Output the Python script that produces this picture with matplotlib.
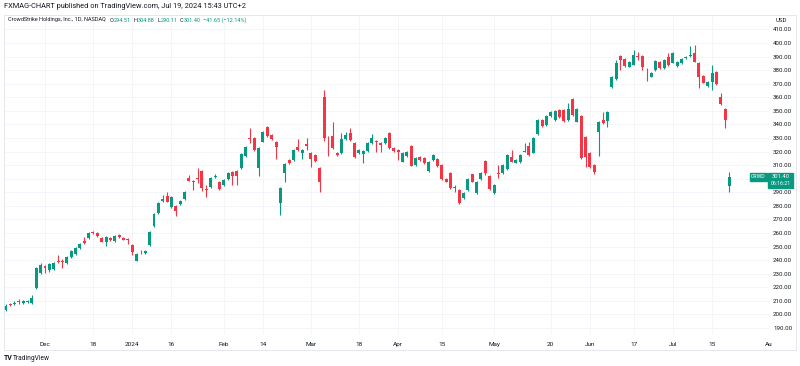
import matplotlib.pyplot as plt
import pandas as pd
from matplotlib.patches import Rectangle

plt.rcParams["font.family"] = ["Roboto", "DejaVu Sans"]

# CRWD daily candles, 2023-11-17 .. 2024-07-19
opens = [203.5, 207.5, 207.4, 209.5, 208.2, 209.0, 208.4, 219.2, 230.3,
         235.7, 232.7, 233.3, 239.6, 239.5, 237.7, 242.0, 244.5, 248.7, 254.0,
         256.1, 260.5, 259.8, 256.1, 253.6, 256.5, 254.1, 258.5, 256.5, 255.5,
         251.1, 239.6, 246.0, 245.0, 251.1, 265.0, 274.5, 283.8, 287.3, 279.0,
         280.0, 281.1, 284.8, 300.3, 298.5, 300.2, 305.7, 292.2, 293.7, 301.0,
         297.8, 295.4, 299.8, 305.2, 305.7, 307.7, 316.7, 330.2, 329.8, 307.7,
         327.3, 337.9, 332.2, 327.3, 282.3, 304.4, 313.8, 313.5, 323.6, 318.7,
         325.3, 319.2, 317.5, 307.7, 360.4, 330.2, 331.3, 319.2, 318.7, 329.0,
         333.5, 326.1, 319.2, 318.2, 320.6, 326.1, 327.6, 326.6, 326.1, 333.5,
         322.4, 321.1, 312.5, 316.7, 324.3, 310.1, 316.2, 315.0, 305.7, 313.8,
         314.3, 310.1, 299.6, 304.0, 293.0, 291.7, 285.6, 291.7, 303.2, 289.2,
         299.8, 313.0, 302.0, 289.7, 304.3, 304.4, 307.1, 315.8, 311.8, 312.5,
         319.9, 324.1, 319.2, 333.0, 343.3, 339.6, 346.1, 343.3, 350.6, 350.6,
         343.3, 358.7, 342.0, 346.2, 331.0, 319.2, 310.1, 334.6, 343.3, 342.7,
         367.4, 373.2, 390.4, 388.2, 382.5, 384.1, 390.4, 390.4, 381.0, 375.2,
         380.1, 386.2, 381.3, 389.4, 385.5, 383.0, 385.0, 388.7, 390.6, 392.9,
         385.5, 375.7, 368.3, 371.5, 378.4, 360.4, 351.3, 294.51]
highs = [207.5, 208.5, 209.5, 211.5, 210.8, 210.5, 214.3, 234.8, 237.7,
         236.5, 238.0, 238.8, 243.8, 240.5, 242.8, 247.8, 249.5, 252.5, 257.3,
         260.5, 261.2, 260.6, 257.0, 257.5, 257.2, 258.5, 259.0, 257.0, 256.0,
         252.0, 245.2, 247.5, 247.8, 261.8, 274.5, 282.6, 288.0, 290.4, 287.0,
         280.8, 284.3, 291.2, 302.5, 299.2, 307.7, 306.5, 295.4, 301.0, 303.5,
         298.5, 299.8, 304.6, 306.0, 306.5, 319.0, 323.8, 337.6, 330.5, 323.0,
         335.0, 339.0, 333.0, 328.0, 293.7, 311.5, 314.5, 321.8, 329.0, 321.8,
         330.0, 320.0, 318.2, 308.5, 365.4, 331.3, 342.0, 320.0, 333.5, 334.5,
         337.0, 326.8, 321.8, 321.2, 327.2, 332.8, 328.5, 327.2, 330.5, 334.2,
         323.0, 321.8, 319.9, 320.5, 325.0, 315.6, 316.8, 315.6, 313.2, 318.2,
         315.0, 310.8, 300.3, 304.6, 295.5, 292.3, 290.0, 300.3, 303.8, 298.5,
         304.6, 313.6, 302.6, 296.0, 310.0, 310.7, 318.1, 321.0, 314.4, 318.1,
         326.0, 327.0, 330.4, 344.0, 344.0, 346.8, 349.5, 350.6, 351.3, 351.3,
         355.6, 359.5, 352.0, 347.0, 331.8, 320.0, 310.8, 342.6, 349.4, 350.0,
         375.8, 387.5, 391.0, 388.8, 386.4, 394.8, 393.6, 391.0, 381.4, 378.7,
         387.6, 386.8, 388.1, 392.4, 393.0, 386.4, 388.6, 390.5, 397.6, 398.3,
         386.1, 376.3, 372.1, 383.8, 379.0, 363.4, 351.9, 304.88]
lows = [202.5, 206.0, 206.8, 208.0, 207.8, 208.5, 207.9, 218.5, 229.5,
        230.5, 231.5, 232.5, 238.0, 234.0, 237.0, 241.5, 244.0, 248.0, 251.8,
        255.5, 259.0, 257.0, 253.0, 250.6, 254.0, 253.5, 256.2, 254.5, 252.0,
        243.8, 239.0, 244.5, 244.3, 250.5, 264.5, 274.0, 283.0, 282.5, 278.5,
        272.7, 280.5, 284.2, 298.0, 292.0, 296.5, 290.8, 286.8, 293.0, 300.5,
        291.5, 294.8, 299.2, 295.4, 295.4, 307.0, 316.0, 326.0, 320.5, 302.0,
        326.8, 331.0, 328.8, 314.5, 273.3, 297.8, 310.8, 313.0, 320.5, 314.5,
        321.0, 308.9, 312.5, 290.4, 327.5, 316.5, 321.5, 316.5, 318.0, 328.5,
        328.0, 315.0, 318.5, 311.3, 320.0, 325.5, 320.0, 319.9, 325.5, 321.8,
        320.0, 313.8, 312.0, 316.0, 309.0, 309.5, 313.2, 310.6, 305.0, 313.2,
        308.8, 299.0, 297.2, 292.3, 290.5, 281.3, 285.0, 291.0, 297.2, 288.5,
        299.2, 302.5, 291.6, 289.0, 300.3, 303.8, 306.5, 312.0, 311.2, 311.9,
        319.3, 317.0, 318.6, 332.4, 338.2, 339.0, 345.5, 342.7, 345.0, 341.9,
        342.7, 346.3, 341.4, 314.5, 308.8, 308.2, 303.5, 316.7, 340.2, 338.3,
        366.8, 372.5, 380.1, 382.4, 382.0, 383.5, 387.5, 380.1, 371.7, 374.6,
        379.5, 380.7, 380.7, 383.2, 384.9, 382.4, 384.4, 388.1, 390.0, 385.6,
        366.6, 370.2, 367.7, 365.4, 369.2, 354.4, 337.1, 290.11]
closes = [206.5, 207.0, 208.6, 208.8, 210.1, 209.6, 212.3, 234.0, 236.4,
          234.0, 237.1, 238.0, 238.9, 238.5, 242.0, 247.0, 248.7, 251.7, 252.4,
          259.8, 259.8, 257.8, 253.6, 256.8, 254.8, 257.8, 256.8, 255.0, 254.8,
          246.2, 244.5, 245.6, 247.0, 261.0, 273.8, 281.9, 284.8, 283.1, 286.3,
          276.2, 283.6, 290.4, 298.5, 297.6, 299.6, 292.9, 291.5, 300.3, 302.0,
          292.2, 299.0, 303.9, 302.0, 302.0, 318.2, 323.1, 329.0, 321.2, 322.4,
          334.2, 331.5, 329.3, 323.6, 292.9, 311.0, 311.3, 321.1, 321.1, 321.1,
          324.3, 314.3, 313.3, 297.8, 329.8, 329.8, 322.4, 317.2, 329.0, 332.2,
          328.5, 315.8, 321.1, 320.6, 326.6, 329.8, 327.0, 324.8, 329.8, 322.4,
          320.6, 319.9, 319.2, 319.9, 309.4, 315.0, 313.8, 311.3, 312.5, 317.5,
          309.4, 299.6, 297.8, 292.9, 294.0, 281.9, 289.2, 299.6, 297.8, 297.8,
          304.0, 304.0, 292.2, 295.4, 303.8, 310.1, 317.5, 312.5, 313.8, 317.5,
          320.6, 317.5, 329.8, 343.3, 338.8, 346.1, 348.9, 349.9, 345.7, 342.5,
          351.1, 346.9, 351.0, 315.0, 316.2, 308.8, 305.2, 342.0, 340.8, 349.4,
          375.0, 385.0, 387.5, 383.0, 385.8, 391.4, 389.9, 382.0, 380.6, 378.1,
          387.0, 381.3, 387.5, 383.8, 392.4, 385.8, 388.0, 389.9, 391.1, 386.2,
          374.7, 370.8, 371.5, 377.6, 369.8, 355.0, 343.05, 301.40]

HOLIDAYS = ["2023-11-23", "2023-12-25", "2024-01-01", "2024-01-15", "2024-02-19",
            "2024-03-29", "2024-05-27", "2024-06-19", "2024-07-04"]
TICK_DATES = ["2023-12-01", "2023-12-18", "2024-01-02", "2024-01-16", "2024-02-01",
              "2024-02-14", "2024-03-01", "2024-03-18", "2024-04-01", "2024-04-15",
              "2024-05-01", "2024-05-20", "2024-06-03", "2024-06-17", "2024-07-01",
              "2024-07-15", "2024-08-01"]
TICK_LABELS = ["Dec", "18", "2024", "16", "Feb", "14", "Mar", "18", "Apr", "15",
               "May", "20", "Jun", "17", "Jul", "15", "Au"]
PRICE_TICKS = list(range(190, 411, 10))

GREEN = "#089981"
RED = "#F23645"
TEXT = "#131722"
W, H = 800, 366

# trading calendar, extended past the last bar for the axis labels
cal = pd.bdate_range("2023-11-17", "2024-08-01", freq="C", holidays=HOLIDAYS)
pos = {d.strftime("%Y-%m-%d"): k for k, d in enumerate(cal)}


def fx(px):
    return px / W


def fy(py):
    return 1 - py / H


fig = plt.figure(figsize=(W / 100, H / 100), dpi=100)
fig.patch.set_facecolor("white")

ax = fig.add_axes([fx(4), fy(335), fx(765), 320 / H])
ax.set_xlim(-0.40, 175.06)
ax.set_ylim(184.8, 420.6)

xs = range(len(opens))
cols = [GREEN if c >= o else RED for o, c in zip(opens, closes)]
ax.vlines(xs, lows, highs, colors=cols, linewidth=0.8, zorder=2)
bottoms = [min(o, c) for o, c in zip(opens, closes)]
heights = [max(abs(c - o), 0.35) for o, c in zip(opens, closes)]
ax.bar(xs, heights, bottom=bottoms, width=0.68, color=cols, linewidth=0, zorder=3)

last = closes[-1]
ax.set_xticks([pos[d] for d in TICK_DATES])
ax.set_xticklabels(TICK_LABELS)
ax.set_yticks(PRICE_TICKS)
# the level under the last-price tag is hidden by the tag
ax.set_yticklabels(["" if abs(p - last) < 4 else f"{p:.2f}" for p in PRICE_TICKS])
ax.yaxis.tick_right()
ax.tick_params(axis="y", length=0, pad=3, labelsize=4.4, labelcolor=TEXT)
ax.tick_params(axis="x", length=0, pad=5, labelsize=4.6, labelcolor=TEXT)
ax.grid(color="#f3f4f8", linewidth=0.6, zorder=0)
for s in ax.spines.values():
    s.set_visible(False)

# outer frame of the snapshot
fig.add_artist(Rectangle((fx(4), fy(350)), fx(792), 335 / H, fill=False,
                         edgecolor="#e0e3eb", linewidth=0.6, transform=fig.transFigure))

fig.text(fx(4), fy(6), "FXMAG-CHART published on TradingView.com, Jul 19, 2024 15:43 UTC+2",
         fontsize=5.3, color=TEXT, va="center")

# legend line with OHLC values
parts = [("CrowdStrike Holdings, Inc., 1D, NASDAQ", TEXT, 0),
         ("O", TEXT, 3), ("294.51", GREEN, 0),
         ("H", TEXT, 2), ("304.88", GREEN, 0),
         ("L", TEXT, 2), ("290.11", GREEN, 0),
         ("C", TEXT, 2), ("301.40", GREEN, 0),
         ("\u221241.65 (\u221212.14%)", GREEN, 2)]
prev = fig.text(fx(8), fy(20), parts[0][0], fontsize=4.0, color=parts[0][1], va="center")
for s, c, gap in parts[1:]:
    prev = ax.annotate(s, xy=(1, 0.5), xycoords=prev, xytext=(gap, 0),
                       textcoords="offset points", fontsize=4.0, color=c,
                       va="center", ha="left", annotation_clip=False)

fig.text(fx(781), fy(20), "USD", fontsize=4.4, color=TEXT, ha="center", va="center")

# last price tags
ly = 43 + (400 - last) * 1.357
fig.add_artist(Rectangle((fx(750), fy(ly + 4)), fx(17), 8 / H, color=GREEN,
                         transform=fig.transFigure, zorder=5))
fig.text(fx(758.5), fy(ly), "CRWD", fontsize=3.8, color="white", ha="center",
         va="center", zorder=6)
fig.add_artist(Rectangle((fx(768), fy(ly + 11)), fx(25), 15 / H, color=GREEN,
                         transform=fig.transFigure, zorder=5))
fig.text(fx(780.5), fy(ly), f"{last:.2f}", fontsize=4.2, color="white",
         ha="center", va="center", zorder=6)
fig.text(fx(780.5), fy(ly + 6.5), "06:16:21", fontsize=3.8, color="white",
         ha="center", va="center", zorder=6)

fig.text(fx(4), fy(358), "TV", fontsize=5, fontweight="bold", color=TEXT, va="center")
fig.text(fx(13), fy(358), "TradingView", fontsize=4.8, color=TEXT, va="center")

fig.savefig("out.png", dpi=100)
